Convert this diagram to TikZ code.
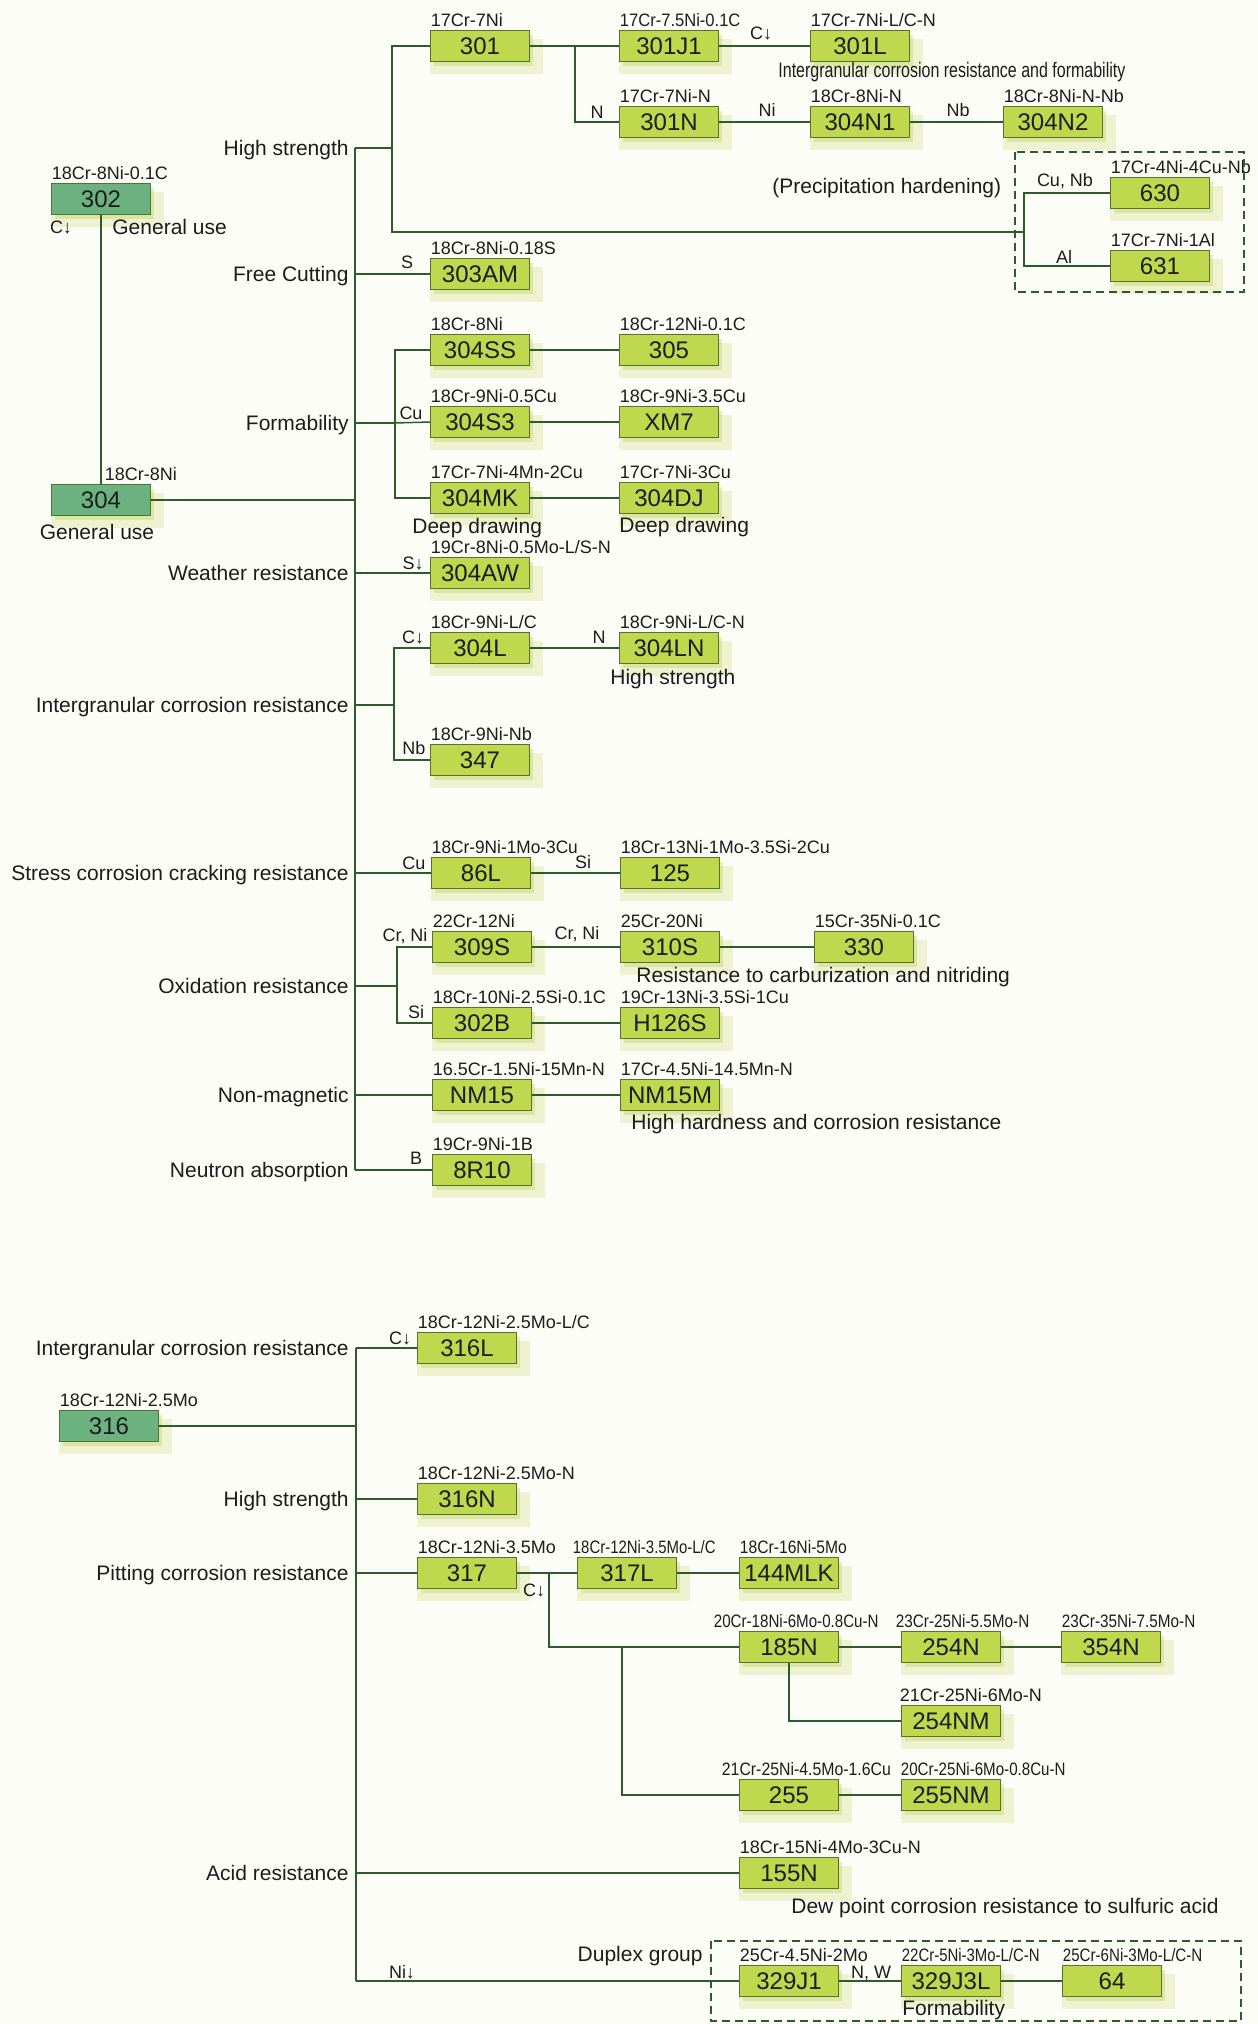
\documentclass[tikz,border=0pt]{standalone}
\usepackage{fontspec}
\setmainfont{Liberation Sans}
\usepackage{graphicx}
\usetikzlibrary{shadows}
\definecolor{bgc}{RGB}{253,253,247}
\definecolor{boxfill}{RGB}{192,216,78}
\definecolor{boxline}{RGB}{78,118,46}
\definecolor{tealfill}{RGB}{108,178,128}
\definecolor{linec}{RGB}{44,92,44}
\definecolor{glowc}{RGB}{196,212,96}
\definecolor{txt}{RGB}{28,28,28}
\newcommand\sq[2]{\scalebox{#1}[1]{#2}}
\newcommand\steel[7][sbox]{\node[#1] (#2) at (#3,#4) {#5};\node[comp] (#2c) at ({#3-49.5+#7},{#4-26.5}) {#6};}
\begin{document}
\begin{tikzpicture}[x=0.5pt,y=-0.5pt,
 every node/.style={text=txt},
 glow/.style={drop shadow={shadow xshift=1.5pt,shadow yshift=-2pt,fill=glowc,opacity=0.4},
   drop shadow={shadow xshift=3pt,shadow yshift=-4.5pt,shadow scale=1.14,fill=glowc,opacity=0.25}},
 sbox/.style={glow,draw=boxline,line width=0.7pt,fill=boxfill,minimum width=49.5pt,minimum height=15.5pt,inner sep=0pt,font=\fontsize{12}{12}\selectfont,text height=8.6pt,text depth=0pt},
 tbox/.style={sbox,fill=tealfill},
 comp/.style={font=\fontsize{9}{9}\selectfont,inner sep=0pt,text height=6.5pt,text depth=0pt,anchor=west},
 el/.style={font=\fontsize{9}{9}\selectfont,inner sep=0pt,text height=6.5pt,text depth=0pt},
 cat/.style={font=\fontsize{10.5}{10.5}\selectfont,inner sep=0pt,text height=7.5pt,text depth=0pt,anchor=east},
 note/.style={cat,anchor=west},
 conn/.style={draw=linec,line width=0.75pt},
 group/.style={draw=linec,line width=0.7pt,dash pattern=on 4pt off 2.5pt}]
\fill[bgc] (0,0) rectangle (1258,2024);
\useasboundingbox (0,0) rectangle (1258,2024);

% ---------- top section boxes ----------
\steel[tbox]{n302}{101}{199}{302}{18Cr-8Ni-0.1C}{0}
\steel[tbox]{n304}{101}{500}{304}{18Cr-8Ni}{53}
\steel{n301}{480}{46}{301}{17Cr-7Ni}{0}
\steel{n301J1}{669}{46}{301J1}{\sq{0.92}{17Cr-7.5Ni-0.1C}}{0}
\steel{n301L}{860}{46}{301L}{17Cr-7Ni-L/C-N}{0}
\steel{n301N}{669}{122}{301N}{17Cr-7Ni-N}{0}
\steel{n304N1}{860}{122}{304N1}{18Cr-8Ni-N}{0}
\steel{n304N2}{1053}{122}{304N2}{18Cr-8Ni-N-Nb}{0}
\steel{n630}{1160}{193}{630}{17Cr-4Ni-4Cu-Nb}{0}
\steel{n631}{1160}{266}{631}{17Cr-7Ni-1Al}{0}
\steel{n303AM}{480}{274}{303AM}{18Cr-8Ni-0.18S}{0}
\steel{n304SS}{480}{350}{304SS}{18Cr-8Ni}{0}
\steel{n305}{669}{350}{305}{18Cr-12Ni-0.1C}{0}
\steel{n304S3}{480}{422}{304S3}{18Cr-9Ni-0.5Cu}{0}
\steel{nXM7}{669}{422}{XM7}{18Cr-9Ni-3.5Cu}{0}
\steel{n304MK}{480}{498}{304MK}{17Cr-7Ni-4Mn-2Cu}{0}
\steel{n304DJ}{669}{498}{304DJ}{17Cr-7Ni-3Cu}{0}
\steel{n304AW}{480}{573}{304AW}{19Cr-8Ni-0.5Mo-L/S-N}{0}
\steel{n304L}{480}{648}{304L}{18Cr-9Ni-L/C}{0}
\steel{n304LN}{669}{648}{304LN}{18Cr-9Ni-L/C-N}{0}
\steel{n347}{480}{760}{347}{18Cr-9Ni-Nb}{0}
\steel{n86L}{481}{873}{86L}{\sq{0.96}{18Cr-9Ni-1Mo-3Cu}}{0}
\steel{n125}{670}{873}{125}{18Cr-13Ni-1Mo-3.5Si-2Cu}{0}
\steel{n309S}{482}{947}{309S}{22Cr-12Ni}{0}
\steel{n310S}{670}{947}{310S}{25Cr-20Ni}{0}
\steel{n330}{864}{947}{330}{15Cr-35Ni-0.1C}{0}
\steel{n302B}{482}{1023}{302B}{18Cr-10Ni-2.5Si-0.1C}{0}
\steel{nH126S}{670}{1023}{H126S}{19Cr-13Ni-3.5Si-1Cu}{0}
\steel{nNM15}{482}{1095}{NM15}{16.5Cr-1.5Ni-15Mn-N}{0}
\steel{nNM15M}{670}{1095}{NM15M}{17Cr-4.5Ni-14.5Mn-N}{0}
\steel{n8R10}{482}{1170}{8R10}{19Cr-9Ni-1B}{0}

% ---------- bottom section boxes ----------
\steel[tbox]{n316}{109}{1426}{316}{18Cr-12Ni-2.5Mo}{0}
\steel{n316L}{467}{1348}{316L}{18Cr-12Ni-2.5Mo-L/C}{0}
\steel{n316N}{467}{1499}{316N}{18Cr-12Ni-2.5Mo-N}{0}
\steel{n317}{467}{1573}{317}{18Cr-12Ni-3.5Mo}{0}
\steel{n317L}{627}{1573}{317L}{\sq{0.83}{18Cr-12Ni-3.5Mo-L/C}}{-5}
\steel{n144MLK}{789}{1573}{144MLK}{\sq{0.87}{18Cr-16Ni-5Mo}}{0}
\steel{n185N}{789}{1647}{185N}{\sq{0.84}{20Cr-18Ni-6Mo-0.8Cu-N}}{-26}
\steel{n254N}{951}{1647}{254N}{\sq{0.85}{23Cr-25Ni-5.5Mo-N}}{-6}
\steel{n354N}{1111}{1647}{354N}{\sq{0.85}{23Cr-35Ni-7.5Mo-N}}{0}
\steel{n254NM}{951}{1721}{254NM}{21Cr-25Ni-6Mo-N}{-2}
\steel{n255}{789}{1795}{255}{\sq{0.88}{21Cr-25Ni-4.5Mo-1.6Cu}}{-18}
\steel{n255NM}{951}{1795}{255NM}{\sq{0.84}{20Cr-25Ni-6Mo-0.8Cu-N}}{-1}
\steel{n155N}{789}{1873}{155N}{18Cr-15Ni-4Mo-3Cu-N}{0}
\steel{n329J1}{789}{1981}{329J1}{25Cr-4.5Ni-2Mo}{0}
\steel{n329J3L}{951}{1981}{329J3L}{\sq{0.83}{22Cr-5Ni-3Mo-L/C-N}}{0}
\steel{n64}{1112}{1981}{64}{\sq{0.84}{25Cr-6Ni-3Mo-L/C-N}}{0}

% ---------- group frames ----------
\draw[group] (1015,152) rectangle (1244,292);
\draw[group] (711,1941) rectangle (1241,2021);

% ---------- category labels ----------
\node[cat] (cHS) at (349,148) {High strength};
\node[cat] (cFC) at (349,274) {Free Cutting};
\node[cat] (cFo) at (349,423) {Formability};
\node[cat] (cWR) at (349,573) {Weather resistance};
\node[cat] (cIC) at (349,705) {Intergranular corrosion resistance};
\node[cat] (cSC) at (349,873) {Stress corrosion cracking resistance};
\node[cat] (cOR) at (349,986) {Oxidation resistance};
\node[cat] (cNM) at (349,1095) {Non-magnetic};
\node[cat] (cNA) at (349,1170) {Neutron absorption};
\node[cat] (cIC2) at (349,1348) {Intergranular corrosion resistance};
\node[cat] (cHS2) at (349,1499) {High strength};
\node[cat] (cPC) at (349,1573) {Pitting corrosion resistance};
\node[cat] (cAR) at (349,1873) {Acid resistance};

% ---------- notes ----------
\node[note] (t302) at (112,227) {General use};
\node[cat,anchor=center] (t304) at (97,532) {General use};
\node[note] (tigf) at (778,70) {\resizebox{173.5pt}{\height}{Intergranular corrosion resistance and formability}};
\node[note] (tph) at (772,186) {(Precipitation hardening)};
\node[note] (tdd1) at (412,526) {Deep drawing};
\node[note] (tdd2) at (619,525) {Deep drawing};
\node[note] (ths2) at (610,677) {High strength};
\node[note] (trc) at (636,975) {Resistance to carburization and nitriding};
\node[note] (thh) at (631,1122) {High hardness and corrosion resistance};
\node[note] (tdew) at (791,1906) {Dew point corrosion resistance to sulfuric acid};
\node[cat] (tdup) at (703,1954) {Duplex group};
\node[note] (tform2) at (902,2008) {Formability};

% ---------- element labels ----------
\node[el] (lC0) at (61,227) {C↓};
\node[el] (lN1) at (597,112) {N};
\node[el] (lC1) at (761,33) {C↓};
\node[el] (lNi1) at (767,110) {Ni};
\node[el] (lNb1) at (958,110) {Nb};
\node[el] (lCuNb) at (1065,180) {Cu, Nb};
\node[el] (lAl) at (1064,257) {Al};
\node[el] (lS) at (407,262) {S};
\node[el] (lCu1) at (411,413) {Cu};
\node[el] (lS2) at (413,563) {S↓};
\node[el] (lC2) at (413,637) {C↓};
\node[el] (lN2) at (599,637) {N};
\node[el] (lNb2) at (414,748) {Nb};
\node[el] (lCu2) at (414,863) {Cu};
\node[el] (lSi1) at (583,862) {Si};
\node[el] (lCrNi1) at (405,935) {Cr, Ni};
\node[el] (lCrNi2) at (577,933) {Cr, Ni};
\node[el] (lSi2) at (416,1012) {Si};
\node[el] (lB) at (416,1158) {B};
\node[el] (lC3) at (400,1338) {C↓};
\node[el] (lC4) at (534,1590) {C↓};
\node[el] (lNi2) at (402,1972) {Ni↓};
\node[el] (lNW) at (871,1972) {N, W};

% ---------- junction coordinates ----------
\coordinate (trT) at (355,148);
\coordinate (trB) at (355,1170);
\coordinate (hs) at (392,148);
\coordinate (pj) at (1024,232);
\coordinate (nb) at (575,46);
\coordinate (fb) at (395,423);
\coordinate (ib) at (394,705);
\coordinate (ob) at (397,986);
\coordinate (lT) at (356,1348);
\coordinate (lB) at (356,1981);
\coordinate (pb1) at (549,1573);
\coordinate (pb2) at (622,1647);

% ---------- connectors: top ----------
\draw[conn] (n302.south) -- (n302.south |- n304.north);
\draw[conn] (n304.east) -- (n304.east -| trT);
\draw[conn] (trT) -- (trB);
\draw[conn] (trT) -- (hs);
\draw[conn] (n301.west) -| (pj -| hs) -- (pj);
\draw[conn] (n630.west) -| (pj) |- (n631.west);
\draw[conn] (n301.east) -- (n301J1.west);
\draw[conn] (nb) |- (n301N.west);
\draw[conn] (n301J1.east) -- (n301L.west);
\draw[conn] (n301N.east) -- (n304N1.west);
\draw[conn] (n304N1.east) -- (n304N2.west);
\draw[conn] (n303AM.west) -- (n303AM.west -| trT);
\draw[conn] (fb) -- (fb -| trT);
\draw[conn] (n304S3.west) -- (fb);
\draw[conn] (n304SS.west) -| (fb) |- (n304MK.west);
\draw[conn] (n304SS.east) -- (n305.west);
\draw[conn] (n304S3.east) -- (nXM7.west);
\draw[conn] (n304MK.east) -- (n304DJ.west);
\draw[conn] (n304AW.west) -- (n304AW.west -| trT);
\draw[conn] (ib) -- (ib -| trT);
\draw[conn] (n304L.west) -| (ib) |- (n347.west);
\draw[conn] (n304L.east) -- (n304LN.west);
\draw[conn] (n86L.west) -- (n86L.west -| trT);
\draw[conn] (n86L.east) -- (n125.west);
\draw[conn] (ob) -- (ob -| trT);
\draw[conn] (n309S.west) -| (ob) |- (n302B.west);
\draw[conn] (n309S.east) -- (n310S.west);
\draw[conn] (n310S.east) -- (n330.west);
\draw[conn] (n302B.east) -- (nH126S.west);
\draw[conn] (nNM15.west) -- (nNM15.west -| trT);
\draw[conn] (nNM15.east) -- (nNM15M.west);
\draw[conn] (n8R10.west) -- (n8R10.west -| trT);

% ---------- connectors: bottom ----------
\draw[conn] (lT) -- (lB);
\draw[conn] (n316L.west) -- (n316L.west -| lT);
\draw[conn] (n316.east) -- (n316.east -| lT);
\draw[conn] (n316N.west) -- (n316N.west -| lT);
\draw[conn] (n317.west) -- (n317.west -| lT);
\draw[conn] (n317.east) -- (n317L.west);
\draw[conn] (n317L.east) -- (n144MLK.west);
\draw[conn] (pb1) |- (n185N.west);
\draw[conn] (pb2) |- (n255.west);
\draw[conn] (n185N.east) -- (n254N.west);
\draw[conn] (n254N.east) -- (n354N.west);
\draw[conn] (n185N.south) |- (n254NM.west);
\draw[conn] (n255.east) -- (n255NM.west);
\draw[conn] (n155N.west) -- (n155N.west -| lT);
\draw[conn] (n329J1.west) -- (n329J1.west -| lT);
\draw[conn] (n329J1.east) -- (n329J3L.west);
\draw[conn] (n329J3L.east) -- (n64.west);
\end{tikzpicture}
\end{document}
